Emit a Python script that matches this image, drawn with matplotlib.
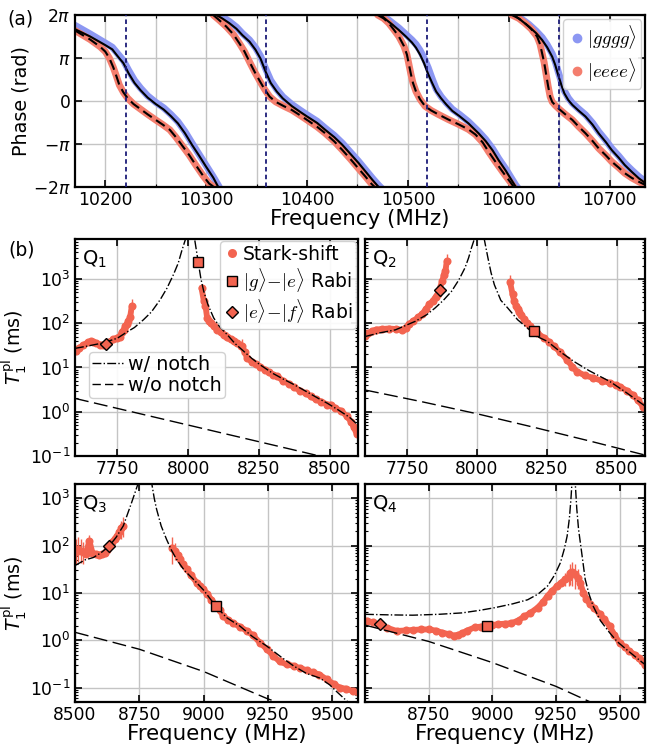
import numpy as np
import matplotlib
matplotlib.use("Agg")
import matplotlib.pyplot as plt
from matplotlib.lines import Line2D
from matplotlib.ticker import LogLocator, NullFormatter, FixedLocator

# ---------------- Panel (a): phase vs frequency (phase in units of pi) ----------------
gggg_fit_f = [
    [10170, 10185, 10200, 10207, 10213, 10218, 10223, 10229, 10235, 10242, 10250, 10258, 10265, 10272, 10279, 10286, 10293, 10300, 10307, 10312],
    [10310, 10316, 10323, 10330, 10336, 10343, 10349, 10354, 10359, 10364, 10370, 10376, 10385, 10393, 10400, 10410, 10418, 10427, 10435, 10443, 10451, 10458, 10465, 10471],
    [10473, 10479, 10485, 10491, 10498, 10504, 10508, 10512, 10516, 10520, 10524, 10528, 10533, 10538, 10544, 10551, 10560, 10570, 10577, 10584, 10590, 10597, 10603, 10607],
    [10605, 10612, 10620, 10627, 10633, 10638, 10643, 10646, 10649, 10652, 10655, 10659, 10663, 10669, 10676, 10683, 10689, 10696, 10702, 10709, 10715, 10722, 10729, 10736],
]
gggg_fit_p = [
    [1.67, 1.50, 1.30, 1.20, 1.02, 0.88, 0.65, 0.42, 0.25, 0.08, -0.07, -0.20, -0.35, -0.52, -0.75, -1.02, -1.27, -1.53, -1.78, -2.0],
    [2.0, 1.92, 1.81, 1.68, 1.53, 1.38, 1.19, 0.98, 0.68, 0.42, 0.22, 0.06, -0.12, -0.25, -0.36, -0.51, -0.67, -0.84, -1.02, -1.23, -1.44, -1.64, -1.84, -2.0],
    [2.0, 1.88, 1.77, 1.65, 1.50, 1.36, 1.24, 1.08, 0.88, 0.63, 0.42, 0.22, 0.06, -0.08, -0.23, -0.35, -0.52, -0.75, -0.93, -1.15, -1.38, -1.62, -1.85, -2.0],
    [2.0, 1.88, 1.73, 1.58, 1.42, 1.25, 1.03, 0.84, 0.60, 0.38, 0.18, 0.02, -0.09, -0.22, -0.36, -0.55, -0.75, -0.95, -1.14, -1.32, -1.49, -1.65, -1.80, -1.92],
]
gggg_dat_f = [
    [10170, 10185, 10200, 10207, 10213, 10218, 10223, 10229, 10235, 10242, 10250, 10258, 10265, 10272, 10279, 10286, 10293, 10300, 10307, 10313],
    [10310, 10316, 10323, 10330, 10336, 10343, 10349, 10354, 10359, 10364, 10370, 10376, 10385, 10393, 10400, 10410, 10418, 10427, 10435, 10443, 10451, 10458, 10465, 10471, 10474],
    [10473, 10479, 10485, 10491, 10498, 10504, 10508, 10512, 10516, 10520, 10524, 10528, 10533, 10538, 10544, 10551, 10560, 10570, 10577, 10584, 10590, 10597, 10603, 10607, 10610],
    [10605, 10612, 10620, 10627, 10633, 10638, 10643, 10646, 10649, 10652, 10655, 10659, 10663, 10669, 10676, 10683, 10689, 10696, 10702, 10709, 10715, 10722, 10729, 10736],
]
gggg_dat_p = [
    [1.76, 1.56, 1.35, 1.25, 1.08, 0.94, 0.72, 0.48, 0.30, 0.12, -0.03, -0.16, -0.31, -0.48, -0.71, -0.98, -1.24, -1.50, -1.76, -2.0],
    [2.04, 1.96, 1.85, 1.72, 1.57, 1.42, 1.24, 1.04, 0.75, 0.48, 0.27, 0.10, -0.08, -0.21, -0.32, -0.47, -0.63, -0.80, -0.98, -1.19, -1.40, -1.60, -1.80, -1.96, -2.03],
    [2.03, 1.92, 1.81, 1.70, 1.55, 1.42, 1.32, 1.18, 1.00, 0.78, 0.52, 0.28, 0.10, -0.04, -0.19, -0.31, -0.48, -0.71, -0.89, -1.11, -1.34, -1.58, -1.81, -1.96, -2.05],
    [2.04, 1.92, 1.78, 1.63, 1.48, 1.31, 1.10, 0.92, 0.68, 0.45, 0.24, 0.07, -0.05, -0.18, -0.32, -0.51, -0.71, -0.91, -1.10, -1.28, -1.45, -1.61, -1.76, -1.88],
]
eeee_f = [
    [10170, 10185, 10195, 10200, 10204, 10208, 10211, 10214, 10218, 10222, 10228, 10235, 10242, 10250, 10257, 10264, 10270, 10277, 10283, 10290, 10297, 10303, 10309],
    [10307, 10313, 10320, 10327, 10333, 10338, 10343, 10348, 10353, 10358, 10363, 10369, 10377, 10385, 10393, 10400, 10410, 10418, 10427, 10435, 10443, 10451, 10458, 10464, 10468],
    [10470, 10476, 10481, 10486, 10491, 10496, 10499, 10501, 10503, 10505, 10508, 10512, 10517, 10523, 10530, 10540, 10550, 10560, 10567, 10574, 10580, 10587, 10594, 10600, 10605],
    [10603, 10610, 10616, 10622, 10628, 10631, 10633, 10635, 10637, 10639, 10641, 10643, 10646, 10650, 10656, 10663, 10669, 10676, 10683, 10689, 10696, 10702, 10709, 10715, 10722, 10729, 10736],
]
eeee_p = [
    [1.64, 1.43, 1.26, 1.15, 1.00, 0.78, 0.58, 0.37, 0.20, 0.07, -0.07, -0.19, -0.31, -0.44, -0.55, -0.67, -0.84, -1.06, -1.25, -1.50, -1.74, -1.92, -2.02],
    [2.0, 1.88, 1.73, 1.55, 1.34, 1.15, 0.91, 0.68, 0.47, 0.27, 0.10, -0.02, -0.12, -0.21, -0.33, -0.44, -0.60, -0.75, -0.94, -1.14, -1.35, -1.57, -1.76, -1.93, -2.02],
    [2.0, 1.92, 1.81, 1.66, 1.50, 1.28, 1.08, 0.85, 0.62, 0.42, 0.22, 0.04, -0.12, -0.22, -0.31, -0.43, -0.54, -0.66, -0.78, -0.96, -1.18, -1.42, -1.65, -1.84, -2.0],
    [2.0, 1.92, 1.81, 1.68, 1.50, 1.32, 1.11, 0.90, 0.62, 0.34, 0.10, -0.02, -0.10, -0.19, -0.31, -0.44, -0.59, -0.75, -0.93, -1.10, -1.26, -1.41, -1.55, -1.68, -1.79, -1.88, -1.96],
]
readout_res = [10221, 10359, 10519, 10650]

# ---------------- Panel (b): T1 (ms) vs frequency (MHz) ----------------
q1_f = [7604, 7615, 7630, 7645, 7655, 7665, 7675, 7690, 7700, 7720, 7736, 7748, 7758, 7765, 7772, 7778, 7784, 7789, 7795, 7801,
        8047, 8055, 8061, 8067, 8073, 8079, 8090, 8102, 8115, 8127, 8138, 8150, 8162, 8173, 8185, 8191, 8200, 8209, 8225, 8240,
        8254, 8270, 8285, 8300, 8315, 8335, 8355, 8374, 8395, 8415, 8433, 8450, 8470, 8492, 8504, 8520, 8540, 8560, 8575, 8585, 8595]
q1_t = [24, 28, 32, 37, 39, 37, 35, 33, 33, 38, 43, 47, 50, 62, 72, 85, 95, 110, 140, 250,
        630, 324, 250, 131, 115, 100, 85, 71, 62, 55, 50, 44, 39, 35, 31, 30, 22, 16, 13.5, 12,
        10.5, 9, 7.8, 6.9, 6.3, 5.0, 4.3, 3.6, 3.0, 2.6, 2.24, 1.9, 1.7, 1.45, 1.45, 1.2, 1.05, 0.8, 0.6, 0.45, 0.32]
q1_err_f = [7795, 7801, 8055, 8061, 8090, 8115, 8138, 8162, 8185, 8191]
q1_err_lo = [120, 170, 250, 190, 65, 50, 40, 32, 24, 20]
q1_err_hi = [185, 350, 420, 330, 110, 78, 64, 48, 40, 45]
q1_ge = (8035, 2380)
q1_ef = (7709, 34)
q1_notch_f = [7600, 7650, 7700, 7750, 7783, 7810, 7842, 7870, 7901, 7925, 7948, 7965, 7977, 7992, 8003,
              8017, 8022, 8030, 8035, 8045, 8055, 8070, 8090, 8110, 8138, 8165, 8197, 8225, 8254, 8300, 8340, 8374, 8420, 8460, 8492, 8530, 8570, 8600]
q1_notch_t = [27, 31, 36, 46, 63, 80, 120, 180, 340, 620, 1260, 2300, 4270, 8500, 40000,
              40000, 8500, 4000, 2500, 1000, 525, 260, 132, 85, 55, 35, 23, 16, 11.5, 7.3, 5.3, 4.1, 2.8, 2.0, 1.55, 1.1, 0.75, 0.5]
q1_nonotch_f = [7600, 7800, 8000, 8200, 8400, 8600]
q1_nonotch_t = [2.0, 1.0, 0.5, 0.25, 0.125, 0.062]

q2_f = [7600, 7612, 7625, 7640, 7660, 7685, 7710, 7732, 7745, 7756, 7770, 7790, 7805, 7818, 7830, 7842, 7852, 7860, 7876, 7882, 7887, 7892,
        8118, 8127, 8133, 8139, 8145, 8151, 8157, 8168, 8180, 8190, 8215, 8239, 8257, 8275, 8298, 8322, 8340, 8357, 8385, 8416, 8445,
        8475, 8495, 8510, 8535, 8557, 8575, 8593]
q2_t = [52, 60, 66, 72, 74, 76, 74, 71, 80, 95, 110, 135, 165, 210, 265, 320, 390, 460, 900, 1260, 1480, 2500,
        850, 450, 310, 250, 205, 175, 155, 125, 100, 85, 60, 47, 38, 30, 22, 14.8, 10.5, 8.1, 6.6, 5.8, 5.0,
        4.5, 4.0, 3.7, 3.0, 2.4, 1.8, 1.3]
q2_err_f = [7887, 7892, 8118]
q2_err_lo = [1000, 1700, 600]
q2_err_hi = [2100, 3600, 1250]
q2_ge = (8202, 66)
q2_ef = (7868, 550)
q2_notch_f = [7600, 7650, 7709, 7779, 7820, 7850, 7880, 7909, 7935, 7957, 7970, 7980, 7992, 8005,
              8013, 8025, 8039, 8050, 8062, 8085, 8110, 8145, 8180, 8215, 8251, 8300, 8345, 8400, 8475, 8530, 8593, 8600]
q2_notch_t = [50, 60, 71, 110, 155, 220, 330, 525, 950, 1780, 3000, 5000, 8500, 40000,
              40000, 8500, 3000, 1400, 740, 330, 220, 120, 78, 50, 39, 22, 13.8, 8.5, 4.8, 2.8, 1.45, 1.35]
q2_nonotch_f = [7600, 7800, 8000, 8200, 8400, 8600]
q2_nonotch_t = [3.1, 1.7, 0.9, 0.45, 0.22, 0.105]

q3_f = [8503, 8512, 8522, 8532, 8542, 8556, 8568, 8580, 8592, 8604, 8615, 8625, 8645, 8655, 8664, 8672, 8680, 8686,
        8876, 8889, 8900, 8908, 8920, 8934, 8950, 8973, 8985, 8999, 9015, 9030, 9062, 9077, 9095, 9115, 9140, 9167,
        9190, 9219, 9245, 9271, 9295, 9323, 9350, 9374, 9400, 9426, 9450, 9478, 9505, 9530, 9555, 9580, 9600]
q3_t = [75, 85, 78, 72, 68, 125, 70, 66, 64, 65, 70, 80, 120, 140, 160, 190, 230, 260,
        91, 78, 62, 51, 40, 32, 24, 16.6, 14, 12, 9.5, 7.2, 4.3, 3.2, 2.7, 2.3, 1.95, 1.6,
        1.3, 0.89, 0.66, 0.47, 0.36, 0.31, 0.29, 0.26, 0.235, 0.21, 0.19, 0.15, 0.12, 0.10, 0.095, 0.085, 0.08]
q3_err_f = [8503, 8512, 8522, 8532, 8556, 8680, 8686, 8876, 8889]
q3_err_lo = [40, 45, 42, 40, 95, 140, 150, 40, 50]
q3_err_hi = [140, 150, 135, 120, 170, 330, 400, 150, 115]
q3_ge = (9048, 5.2)
q3_ef = (8633, 98)
q3_notch_f = [8500, 8539, 8571, 8600, 8633, 8660, 8688, 8720, 8746, 8760,
              8785, 8798, 8808, 8817, 8835, 8856, 8875, 8895, 8925, 8960, 9000, 9048, 9090, 9141, 9190, 9245, 9300, 9349, 9400,
              9452, 9490, 9520, 9545, 9570, 9600]
q3_notch_t = [38, 50, 56, 70, 98, 150, 263, 810, 2100, 10000,
              10000, 2100, 1000, 590, 260, 135, 80, 51, 30, 19.5, 11.5, 5.2, 3.0, 2.0, 1.2, 0.76, 0.45, 0.29, 0.2,
              0.16, 0.115, 0.08, 0.06, 0.045, 0.032]
q3_nonotch_f = [8500, 8750, 9000, 9250, 9300, 9400]
q3_nonotch_t = [1.48, 0.65, 0.22, 0.058, 0.047, 0.03]

q4_f = [8508, 8530, 8585, 8624, 8660, 8688, 8720, 8753, 8780, 8804, 8830, 8849, 8865, 8881, 8900, 8933, 8955, 9000, 9023,
        9050, 9075, 9100, 9126, 9150, 9178, 9200, 9217, 9235, 9255, 9270, 9287, 9300, 9307, 9315, 9326, 9335, 9345, 9358,
        9370, 9384, 9400, 9423, 9440, 9461, 9480, 9500, 9520, 9539, 9560, 9575, 9590, 9600]
q4_t = [2.6, 2.4, 1.86, 1.58, 1.62, 1.66, 1.7, 1.70, 1.6, 1.45, 1.35, 1.26, 1.3, 1.41, 1.6, 1.9, 1.95, 2.1, 2.2,
        2.25, 2.3, 2.6, 3.2, 3.8, 4.9, 6.5, 8.7, 11, 14, 16.5, 19.5, 22, 27, 28, 25, 21, 16.6, 10.2,
        7.5, 5.8, 4.8, 3.55, 2.8, 2.0, 1.3, 0.89, 0.72, 0.59, 0.5, 0.42, 0.36, 0.3]
q4_err_f = [9287, 9300, 9307, 9315, 9326, 9335]
q4_err_lo = [14, 14, 15, 14, 12, 12]
q4_err_hi = [26, 32, 40, 45, 40, 32]
q4_ge = (8979, 2.0)
q4_ef = (8557, 2.24)
q4_notch_f = [8500, 8600, 8688, 8790, 8881, 8950, 9010, 9080, 9139, 9180, 9217, 9245, 9268, 9283, 9294, 9303, 9309, 9313, 9318,
              9322, 9326, 9332, 9339, 9350, 9365, 9380, 9397, 9425, 9461, 9490, 9526, 9560, 9590, 9600]
q4_notch_t = [3.55, 3.45, 3.4, 3.55, 3.8, 4.3, 4.9, 5.9, 7.2, 9.5, 14, 24, 44, 85, 158, 380, 955, 2080, 10000,
              10000, 2080, 600, 220, 80, 19.5, 9.5, 5.2, 2.6, 1.45, 0.95, 0.65, 0.46, 0.34, 0.31]
q4_nonotch_f = [8500, 8750, 9000, 9250, 9400]
q4_nonotch_t = [2.1, 0.95, 0.34, 0.107, 0.046]

# ---------------- styling ----------------
RED_A = '#f47e6e'
BLUE_A = '#8c97f2'
RED_B = '#f36450'
NAVY = '#1c1c78'
GRID = '#c4c4c4'
XLAB = 15.4
YLAB = 13.8

W, H = 647, 746
fig = plt.figure(figsize=(W / 100, H / 100), dpi=100)


def box(l, t, r, b):
    return [l / W, 1 - b / H, (r - l) / W, (b - t) / H]


def style(ax):
    for s in ax.spines.values():
        s.set_linewidth(1.6)
    ax.tick_params(which='both', direction='in', top=True, right=True, labelsize=12.3)
    ax.tick_params(which='major', length=5, width=1.2, pad=3)
    ax.tick_params(which='minor', length=2.5, width=0.8)
    ax.set_axisbelow(True)


# ---- panel (a)
axA = fig.add_axes(box(75, 15, 645, 187))
style(axA)
for f, p in zip(gggg_dat_f, gggg_dat_p):
    axA.plot(f, np.pi * np.array(p), color=BLUE_A, lw=5, solid_capstyle='round', zorder=2)
for f, p in zip(eeee_f, eeee_p):
    axA.plot(f, np.pi * np.array(p), color=RED_A, lw=5, solid_capstyle='round', zorder=2.1)
for f, p in zip(gggg_fit_f, gggg_fit_p):
    axA.plot(f, np.pi * np.array(p), color='black', lw=1.5, zorder=3)
for f, p in zip(eeee_f, eeee_p):
    axA.plot(f, np.pi * np.array(p), color='black', lw=1.5, dashes=(5, 2.5), zorder=3)
for fr in readout_res:
    axA.axvline(fr, color=NAVY, lw=1.3, dashes=(2.5, 1.8), zorder=4)
axA.set_xlim(10170, 10735)
axA.set_ylim(-2 * np.pi, 2 * np.pi)
axA.set_xticks([10200, 10300, 10400, 10500, 10600, 10700])
axA.xaxis.set_minor_locator(FixedLocator([10250, 10350, 10450, 10550, 10650]))
axA.set_yticks(np.pi * np.array([-2, -1, 0, 1, 2]))
axA.set_yticklabels([r'$-2\pi$', r'$-\pi$', r'$0$', r'$\pi$', r'$2\pi$'])
axA.grid(True, which='both', color=GRID, lw=1)
axA.set_xlabel('Frequency (MHz)', fontsize=XLAB, labelpad=0)
axA.set_ylabel('Phase (rad)', fontsize=YLAB, labelpad=2)
hA = [Line2D([], [], ls='none', marker='o', color=BLUE_A, ms=6),
      Line2D([], [], ls='none', marker='o', color=RED_A, ms=6)]
axA.legend(hA, [r'$|gggg\rangle$', r'$|eeee\rangle$'], loc='upper right',
           prop={'size': 13.5, 'math_fontfamily': 'cm'}, handletextpad=0.0,
           handlelength=1.0, borderpad=0.25, labelspacing=0.25, borderaxespad=0.2,
           framealpha=0.9, edgecolor='#cccccc')

# ---- panel (b)
axes_b = [fig.add_axes(box(75, 239, 358, 456)), fig.add_axes(box(365, 239, 645, 456)),
          fig.add_axes(box(75, 484, 358, 702)), fig.add_axes(box(365, 484, 645, 702))]

qdata = [
    (q1_f, q1_t, q1_err_f, q1_err_lo, q1_err_hi, q1_ge, q1_ef, q1_notch_f, q1_notch_t, q1_nonotch_f, q1_nonotch_t),
    (q2_f, q2_t, q2_err_f, q2_err_lo, q2_err_hi, q2_ge, q2_ef, q2_notch_f, q2_notch_t, q2_nonotch_f, q2_nonotch_t),
    (q3_f, q3_t, q3_err_f, q3_err_lo, q3_err_hi, q3_ge, q3_ef, q3_notch_f, q3_notch_t, q3_nonotch_f, q3_nonotch_t),
    (q4_f, q4_t, q4_err_f, q4_err_lo, q4_err_hi, q4_ge, q4_ef, q4_notch_f, q4_notch_t, q4_nonotch_f, q4_nonotch_t),
]
xlims = [(7600, 8600), (7600, 8600), (8500, 9600), (8500, 9600)]
ylims = [(0.1, 8000), (0.1, 8000), (0.05, 2000), (0.05, 2000)]
xt = [[7750, 8000, 8250, 8500], [7750, 8000, 8250, 8500],
      [8500, 8750, 9000, 9250, 9500], [8750, 9000, 9250, 9500]]
names = [r'Q$_1$', r'Q$_2$', r'Q$_3$', r'Q$_4$']

for i, (ax, d) in enumerate(zip(axes_b, qdata)):
    f, t, ef, elo, ehi, ge, efp, nf, nt, wf, wt = d
    style(ax)
    ax.set_yscale('log')
    ax.vlines(ef, elo, ehi, color=RED_B, lw=1.0, zorder=2)
    # break the band where the measurement has a gap (around the notch)
    fa = np.asarray(f, float)
    ta = np.asarray(t, float)
    cut = np.where(np.diff(fa) > 60)[0] + 1
    for fs, ts in zip(np.split(fa, cut), np.split(ta, cut)):
        ax.plot(fs, ts, ls='-', lw=4.2, color=RED_B, solid_capstyle='round', zorder=2.4)
    ax.plot(fa, ta, ls='none', marker='o', ms=5.8, color=RED_B, mec='none', zorder=2.5)
    ax.plot(nf, nt, color='black', lw=1.0, ls='-.', zorder=3)
    ax.plot(wf, wt, color='black', lw=1.0, dashes=(10, 4), zorder=3)
    ax.plot([ge[0]], [ge[1]], ls='none', marker='s', ms=6.5, mfc=RED_B, mec='black', mew=1.0, zorder=4)
    ax.plot([efp[0]], [efp[1]], ls='none', marker='D', ms=6, mfc=RED_B, mec='black', mew=1.0, zorder=4)
    ax.set_xlim(*xlims[i])
    ax.set_ylim(*ylims[i])
    ax.set_xticks(xt[i])
    ax.yaxis.set_major_locator(LogLocator(base=10, numticks=12))
    ax.yaxis.set_minor_locator(LogLocator(base=10, subs=np.arange(2, 10), numticks=12))
    ax.yaxis.set_minor_formatter(NullFormatter())
    ax.grid(True, which='major', color=GRID, lw=1)
    ax.text(0.025, 0.955, names[i], transform=ax.transAxes, fontsize=14, va='top', ha='left')
    if i in (1, 3):
        ax.tick_params(labelleft=False)
    else:
        ax.set_ylabel(r'$T_1^{\rm pl}$ (ms)', fontsize=YLAB, labelpad=1)
    if i >= 2:
        ax.set_xlabel('Frequency (MHz)', fontsize=XLAB, labelpad=0)

ax1 = axes_b[0]
h1 = [Line2D([], [], ls='none', marker='o', ms=6.5, color=RED_B, mec='none'),
      Line2D([], [], ls='none', marker='s', ms=6.5, mfc=RED_B, mec='black'),
      Line2D([], [], ls='none', marker='D', ms=6, mfc=RED_B, mec='black')]
leg1 = ax1.legend(h1, ['Stark-shift', r'$|g\rangle\!-\!|e\rangle$ Rabi', r'$|e\rangle\!-\!|f\rangle$ Rabi'],
                  loc='upper right', prop={'size': 13.5, 'math_fontfamily': 'cm'},
                  handletextpad=0.2, handlelength=0.8, borderpad=0.2, labelspacing=0.15,
                  borderaxespad=0.1, framealpha=0.9, edgecolor='#cccccc')
ax1.add_artist(leg1)
h2 = [Line2D([], [], color='black', lw=1.0, ls='-.'),
      Line2D([], [], color='black', lw=1.0, dashes=(6, 3))]
ax1.legend(h2, ['w/ notch', 'w/o notch'], loc='upper left', bbox_to_anchor=(0.05, 0.48),
           fontsize=13.8, handlelength=1.6, handletextpad=0.3, borderpad=0.15, labelspacing=0.1,
           borderaxespad=0.0, framealpha=0.9, edgecolor='#cccccc')

fig.text(7 / W, 1 - 19 / H, '(a)', fontsize=13.5, va='center', ha='left')
fig.text(8 / W, 1 - 250 / H, '(b)', fontsize=13.5, va='center', ha='left')

fig.savefig('out.png', dpi=100)
